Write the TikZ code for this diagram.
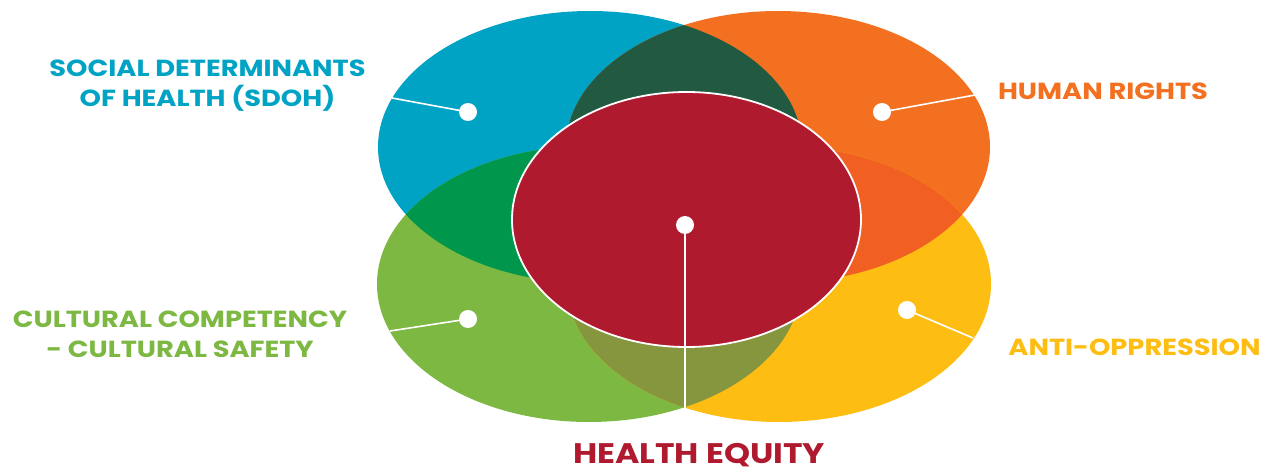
\documentclass[tikz,border=0pt]{standalone}
\usepackage{fontspec}
\setmainfont{Poppins}
\newfontfamily\lblfont{Poppins}[UprightFont=* Bold, FakeStretch=1.17]
\definecolor{cblue}{RGB}{0,163,196}
\definecolor{corange}{RGB}{243,112,33}
\definecolor{cgreen}{RGB}{125,184,67}
\definecolor{cyellow}{RGB}{253,189,19}
\definecolor{cred}{RGB}{176,26,46}
\definecolor{cdkgreen}{RGB}{34,90,65}
\definecolor{cmidgreen}{RGB}{0,150,75}
\definecolor{cdkorange}{RGB}{241,95,34}
\definecolor{colive}{RGB}{134,150,63}
\begin{document}
\begin{tikzpicture}[x=1pt,y=-1pt,
  dot/.style={circle,fill=white,inner sep=0pt,minimum size=18pt},
  link/.style={white,line width=1.6pt},
  lbl/.style={font=\lblfont\fontsize{23.3}{28}\selectfont,inner sep=0pt,anchor=base},
  biglbl/.style={font=\lblfont\fontsize{28.3}{34}\selectfont,inner sep=0pt,anchor=base}]
\useasboundingbox (0,0) rectangle (1269,473);
% main ellipses
\fill[cblue]   (590,147) ellipse [x radius=212,y radius=136];
\fill[corange] (778,147) ellipse [x radius=212,y radius=136];
\fill[cgreen]  (589,284) ellipse [x radius=212,y radius=138];
\fill[cyellow] (779,284) ellipse [x radius=212,y radius=138];
% overlaps
\begin{scope}
  \clip (590,147) ellipse [x radius=212,y radius=136];
  \fill[cdkgreen] (778,147) ellipse [x radius=212,y radius=136];
\end{scope}
\begin{scope}
  \clip (590,147) ellipse [x radius=212,y radius=136];
  \fill[cmidgreen] (589,284) ellipse [x radius=212,y radius=138];
\end{scope}
\begin{scope}
  \clip (778,147) ellipse [x radius=212,y radius=136];
  \fill[cdkorange] (779,284) ellipse [x radius=212,y radius=138];
\end{scope}
\begin{scope}
  \clip (589,284) ellipse [x radius=212,y radius=138];
  \fill[colive] (779,284) ellipse [x radius=212,y radius=138];
\end{scope}
% centre ellipse
\fill[cred, draw=white, line width=1.8pt] (686.5,219.5) ellipse [x radius=174.5,y radius=127.5];
% dots and connectors
\node[dot] (dblue)   at (468,112) {};
\node[dot] (dorange) at (882,112) {};
\node[dot] (dgreen)  at (468,319) {};
\node[dot] (dyellow) at (907,310) {};
\node[dot] (dred)    at (685,225) {};
\coordinate (eblue)   at (392,98);
\coordinate (eorange) at (975,95);
\coordinate (egreen)  at (390,331);
\coordinate (eyellow) at (973,338);
\coordinate (ered)    at (685,408);
\draw[link] (dblue.center) -- (eblue);
\draw[link] (dorange.center) -- (eorange);
\draw[link] (dgreen.center) -- (egreen);
\draw[link] (dyellow.center) -- (eyellow);
\draw[link] (dred.center) -- (ered);
% labels
\node[lbl, text=cblue] (sdoh1) at (207.5,77) {SOCIAL DETERMINANTS};
\node[lbl, text=cblue] (sdoh2) at (207.5,107) {OF HEALTH (SDOH)};
\node[lbl, text=corange] (hr) at (1103,100) {HUMAN RIGHTS};
\node[lbl, text=cyellow] (ao) at (1134.5,355) {ANTI-OPPRESSION};
\node[lbl, text=cgreen] (cc1) at (180,327) {CULTURAL COMPETENCY};
\node[lbl, text=cgreen] (cc2) at (180,357) {- CULTURAL SAFETY};
\node[biglbl, text=cred] (he) at (699,463) {HEALTH EQUITY};
\end{tikzpicture}
\end{document}
